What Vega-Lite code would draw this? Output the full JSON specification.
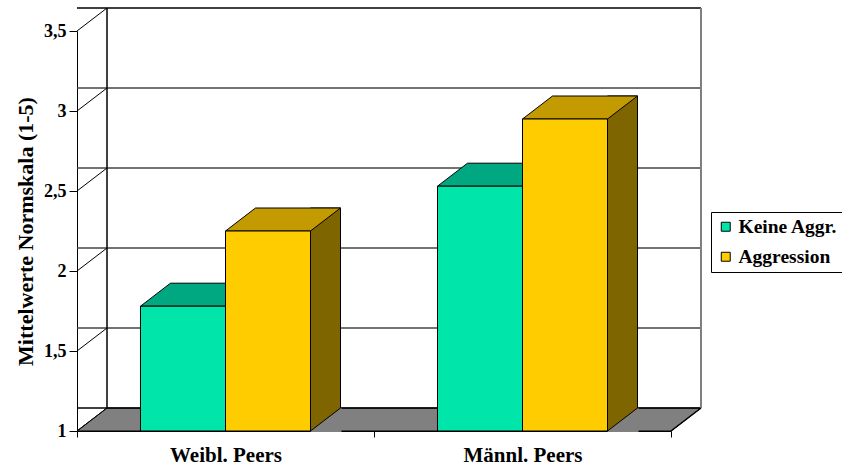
{
  "$schema": "https://vega.github.io/schema/vega-lite/v6.json",
  "width": 594,
  "height": 400,
  "autosize": {"type": "none"},
  "padding": {"left": 77, "top": 31, "right": 171, "bottom": 39},
  "background": "white",
  "config": {
    "view": {"stroke": null},
    "font": "Liberation Serif",
    "legend": {
      "orient": "none",
      "legendX": 634,
      "legendY": 181,
      "strokeColor": "black",
      "padding": 5,
      "labelFont": "Liberation Serif",
      "labelFontWeight": "bold",
      "labelFontSize": 19.5,
      "labelColor": "black",
      "symbolType": "square",
      "symbolSize": 80,
      "symbolStrokeColor": "black",
      "symbolStrokeWidth": 1,
      "rowPadding": 9,
      "labelOffset": 3
    }
  },
  "datasets": {
    "bars": [
      {"grp": "Weibl. Peers", "series": "Keine Aggr.", "value": 1.78},
      {"grp": "Weibl. Peers", "series": "Aggression", "value": 2.25},
      {"grp": "Männl. Peers", "series": "Keine Aggr.", "value": 2.53},
      {"grp": "Männl. Peers", "series": "Aggression", "value": 2.95}
    ],
    "grid": [{"value": 1}, {"value": 1.5}, {"value": 2}, {"value": 2.5}, {"value": 3}, {"value": 3.5}]
  },
  "layer": [
    {
      "data": {"name": "grid"},
      "transform": [{"filter": "datum.value === 1"}],
      "mark": {"type": "point", "shape": "M0,0L5.94,0L6.24,-0.23L0.3,-0.23Z", "size": 40000, "filled": true, "fill": "#808080", "stroke": "black", "strokeWidth": 1, "opacity": 1},
      "encoding": {
        "x": {"datum": "Weibl. Peers", "type": "nominal", "bandPosition": 0,
              "scale": {"domain": ["Weibl. Peers", "Männl. Peers"], "paddingInner": 0, "paddingOuter": 0},
              "axis": {"title": null, "tickBand": "extent", "labelAngle": 0, "domainColor": "black", "domainWidth": 1, "tickColor": "black", "tickSize": 6, "labelFont": "Liberation Serif", "labelFontWeight": "bold", "labelFontSize": 21, "labelColor": "black", "labelPadding": 7}},
        "y": {"field": "value", "type": "quantitative", "title": "Mittelwerte Normskala (1-5)",
              "scale": {"domain": [1, 3.5], "nice": false, "zero": false},
              "axis": {"values": [1, 1.5, 2, 2.5, 3, 3.5], "format": ".1~f", "labelExpr": "replace(datum.label, '.', ',')", "grid": false, "domainColor": "black", "tickColor": "black", "tickSize": 8, "labelPadding": 3, "labelFont": "Liberation Serif", "labelFontWeight": "bold", "labelFontSize": 18, "labelColor": "black", "titleFont": "Liberation Serif", "titleFontWeight": "bold", "titleFontSize": 22, "titleColor": "black", "titlePadding": 6}}
      }
    },
    {
      "data": {"name": "grid"},
      "mark": {"type": "rule", "xOffset": 30, "x2Offset": 30, "yOffset": -23, "strokeWidth": 1.5},
      "encoding": {
        "y": {"field": "value", "type": "quantitative", "title": "Mittelwerte Normskala (1-5)"},
        "stroke": {"condition": {"test": "datum.value === 1 || datum.value === 3.5", "value": "black"}, "value": "#444444"}
      }
    },
    {
      "data": {"name": "grid"},
      "transform": [{"filter": "datum.value === 1"}],
      "mark": {"type": "rule", "xOffset": 30, "yOffset": -23, "y2Offset": -23, "stroke": "black", "strokeWidth": 1.5},
      "encoding": {
        "x": {"datum": "Weibl. Peers", "type": "nominal", "bandPosition": 0, "title": null},
        "y": {"datum": 1, "type": "quantitative", "title": "Mittelwerte Normskala (1-5)"},
        "y2": {"datum": 3.5}
      }
    },
    {
      "data": {"name": "grid"},
      "transform": [{"filter": "datum.value === 1"}],
      "mark": {"type": "rule", "xOffset": 30, "yOffset": -23, "y2Offset": -23, "stroke": "#808080", "strokeWidth": 2},
      "encoding": {
        "x": {"datum": "Männl. Peers", "type": "nominal", "bandPosition": 1, "title": null},
        "y": {"datum": 1, "type": "quantitative", "title": "Mittelwerte Normskala (1-5)"},
        "y2": {"datum": 3.5}
      }
    },
    {
      "data": {"name": "grid"},
      "mark": {"type": "point", "shape": "M0,0L0.6,-0.46", "size": 10000, "filled": false, "stroke": "black", "strokeWidth": 1, "opacity": 1},
      "encoding": {
        "x": {"datum": "Weibl. Peers", "type": "nominal", "bandPosition": 0, "title": null},
        "y": {"field": "value", "type": "quantitative", "title": "Mittelwerte Normskala (1-5)"}
      }
    },
    {
      "data": {"name": "grid"},
      "transform": [{"filter": "datum.value === 1"}],
      "mark": {"type": "point", "shape": "M0,0L0.6,-0.46", "size": 10000, "filled": false, "stroke": "black", "strokeWidth": 1.5, "opacity": 1},
      "encoding": {
        "x": {"datum": "Männl. Peers", "type": "nominal", "bandPosition": 1, "title": null},
        "y": {"field": "value", "type": "quantitative", "title": "Mittelwerte Normskala (1-5)"}
      }
    },
    {
      "data": {"name": "bars"},
      "transform": [{"filter": "datum.series === 'Keine Aggr.'"}],
      "mark": {"type": "point", "shape": "M-0.85,0L0.85,0L1.45,-0.46L-0.25,-0.46Z", "size": 10000, "filled": true, "fill": "#00A882", "stroke": "black", "strokeWidth": 1, "opacity": 1},
      "encoding": {
        "x": {"field": "grp", "type": "nominal", "title": null},
        "xOffset": {"field": "series", "type": "nominal", "scale": {"domain": ["Keine Aggr.", "Aggression"], "paddingInner": 0, "paddingOuter": 0.747}},
        "y": {"field": "value", "type": "quantitative", "title": "Mittelwerte Normskala (1-5)"}
      }
    },
    {
      "data": {"name": "bars"},
      "transform": [{"filter": "datum.series === 'Aggression'"}],
      "mark": {"type": "bar", "width": 30, "xOffset": 100, "yOffset": -23, "fill": "#7F6500", "stroke": "black", "strokeWidth": 1},
      "encoding": {
        "x": {"field": "grp", "type": "nominal", "title": null},
        "y": {"field": "value", "type": "quantitative", "title": "Mittelwerte Normskala (1-5)"},
        "y2": {"datum": 1}
      }
    },
    {
      "data": {"name": "bars"},
      "transform": [{"filter": "datum.series === 'Aggression'"}],
      "mark": {"type": "point", "shape": "M0.85,0L1.47,-0.47L1.47,0.02L0.85,0.02Z", "size": 10000, "filled": true, "fill": "#808080", "strokeWidth": 0, "opacity": 1},
      "encoding": {
        "x": {"field": "grp", "type": "nominal", "title": null},
        "xOffset": {"field": "series", "type": "nominal"},
        "y": {"datum": 1, "type": "quantitative", "title": "Mittelwerte Normskala (1-5)"}
      }
    },
    {
      "data": {"name": "bars"},
      "transform": [{"filter": "datum.series === 'Aggression'"}],
      "mark": {"type": "point", "shape": "M0.85,0L1.45,-0.46", "size": 10000, "filled": false, "stroke": "black", "strokeWidth": 1, "opacity": 1},
      "encoding": {
        "x": {"field": "grp", "type": "nominal", "title": null},
        "xOffset": {"field": "series", "type": "nominal"},
        "y": {"datum": 1, "type": "quantitative", "title": "Mittelwerte Normskala (1-5)"}
      }
    },
    {
      "data": {"name": "bars"},
      "transform": [{"filter": "datum.series === 'Aggression'"}],
      "mark": {"type": "point", "shape": "M-0.85,0L0.85,0L1.45,-0.46L-0.25,-0.46Z", "size": 10000, "filled": true, "fill": "#C39B00", "stroke": "black", "strokeWidth": 1, "opacity": 1},
      "encoding": {
        "x": {"field": "grp", "type": "nominal", "title": null},
        "xOffset": {"field": "series", "type": "nominal"},
        "y": {"field": "value", "type": "quantitative", "title": "Mittelwerte Normskala (1-5)"}
      }
    },
    {
      "data": {"name": "bars"},
      "mark": {"type": "bar", "stroke": "black", "strokeWidth": 1},
      "encoding": {
        "x": {"field": "grp", "type": "nominal", "title": null},
        "xOffset": {"field": "series", "type": "nominal"},
        "y": {"field": "value", "type": "quantitative", "title": "Mittelwerte Normskala (1-5)"},
        "y2": {"datum": 1},
        "fill": {"field": "series", "type": "nominal", "title": null,
                 "scale": {"domain": ["Keine Aggr.", "Aggression"], "range": ["#00E5AA", "#FFCC00"]}}
      }
    }
  ]
}
